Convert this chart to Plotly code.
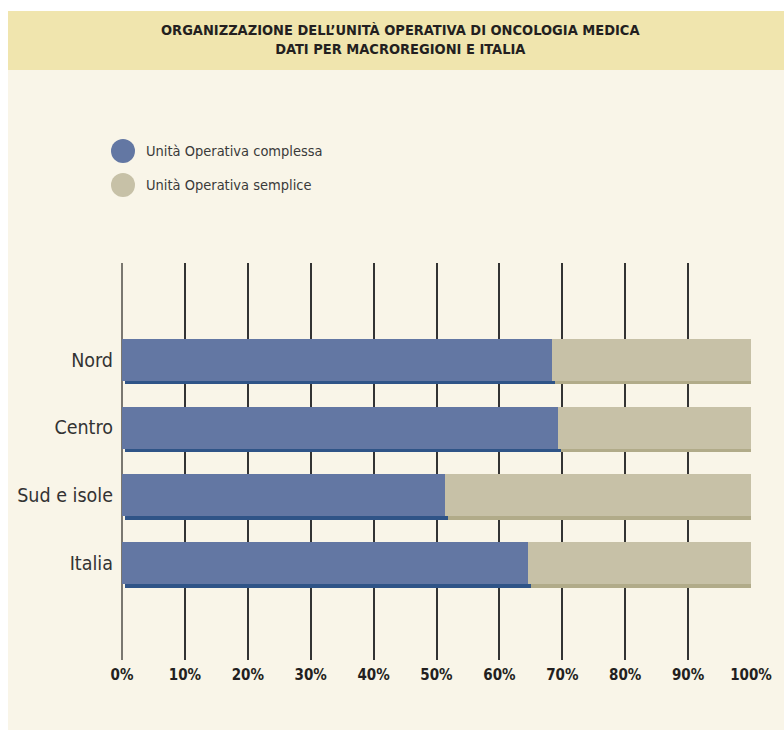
import plotly.graph_objects as go

# ---- data ----
categories = ["Nord", "Centro", "Sud e isole", "Italia"]
complessa = [68.4, 69.3, 51.4, 64.5]
semplice = [31.6, 30.7, 48.6, 35.5]
tick_vals = [0, 10, 20, 30, 40, 50, 60, 70, 80, 90, 100]
tick_text = ["0%", "10%", "20%", "30%", "40%", "50%", "60%", "70%", "80%", "90%", "100%"]
series_names = ["Unità Operativa complessa", "Unità Operativa semplice"]
title_lines = ["ORGANIZZAZIONE DELL’UNITÀ OPERATIVA DI ONCOLOGIA MEDICA",
               "DATI PER MACROREGIONI E ITALIA"]

# ---- style ----
BLUE = "#6377a3"
BLUE_SH = "#2f5487"
TAN = "#c7c1a7"
TAN_SH = "#b1ab89"
CREAM = "#f9f5e8"
BAND = "#f0e5ae"
FONT = "Liberation Sans Narrow, Arial Narrow, DejaVu Sans Condensed, sans-serif"

W, H = 784, 730
L, R, T, B = 122, 33, 263, 70
PW = W - L - R
PH = H - T - B

def px_x(px):
    return (px - L) / PW

def px_y(py):
    return (H - B - py) / PH

BW = 0.62
yr_main = [4.426, -1.426]
sx = 3 * 100 / PW          # 3 px shift right
sy = 3.5 * (yr_main[0] - yr_main[1]) / PH   # shift down

fig = go.Figure()

# shadows (base axes, shifted)
fig.add_trace(go.Bar(y=categories, x=complessa, orientation="h", marker_color=BLUE_SH,
                     marker_line_width=0, width=BW, showlegend=False, hoverinfo="skip",
                     xaxis="x", yaxis="y"))
fig.add_trace(go.Bar(y=categories, x=semplice, base=complessa, orientation="h", marker_color=TAN_SH,
                     marker_line_width=0, width=BW, showlegend=False, hoverinfo="skip",
                     xaxis="x", yaxis="y"))
# main bars (overlay axes)
fig.add_trace(go.Bar(y=categories, x=complessa, orientation="h", marker_color=BLUE,
                     marker_line_width=0, width=BW, name=series_names[0], showlegend=False,
                     xaxis="x2", yaxis="y2"))
fig.add_trace(go.Bar(y=categories, x=semplice, base=complessa, orientation="h", marker_color=TAN,
                     marker_line_width=0, width=BW, name=series_names[1], showlegend=False,
                     xaxis="x2", yaxis="y2"))

shapes = [
    # white outer margins
    dict(type="rect", xref="paper", yref="paper", x0=px_x(0), x1=px_x(W), y0=px_y(0), y1=px_y(11),
         fillcolor="white", line_width=0, layer="below"),
    dict(type="rect", xref="paper", yref="paper", x0=px_x(0), x1=px_x(8), y0=px_y(0), y1=px_y(H),
         fillcolor="white", line_width=0, layer="below"),
    # title band
    dict(type="rect", xref="paper", yref="paper", x0=px_x(8), x1=px_x(W), y0=px_y(11), y1=px_y(70),
         fillcolor=BAND, line_width=0, layer="below"),
]
# legend circles
legend_cols = [BLUE, TAN]
legend_y = [151, 185]
annotations = []
for col, yy, nm in zip(legend_cols, legend_y, series_names):
    shapes.append(dict(type="circle", xref="paper", yref="paper",
                       x0=px_x(111), x1=px_x(135), y0=px_y(yy + 12), y1=px_y(yy - 12),
                       fillcolor=col, line_width=0))
    annotations.append(dict(xref="paper", yref="paper", x=px_x(144), y=px_y(yy), text=nm,
                            showarrow=False, xanchor="left", yanchor="middle",
                            font=dict(family=FONT, size=14.5, color="#3a3a3a")))
annotations.append(dict(xref="paper", yref="paper", x=px_x(400), y=px_y(39),
                        text="<b>" + title_lines[0] + "</b><br><b>" + title_lines[1] + "</b>",
                        showarrow=False, xanchor="center", yanchor="middle", align="center",
                        font=dict(family=FONT, size=14.5, color="#231f20")))

fig.update_layout(
    width=W, height=H,
    margin=dict(l=L, r=R, t=T, b=B, pad=0),
    paper_bgcolor=CREAM, plot_bgcolor="rgba(0,0,0,0)",
    barmode="overlay", bargap=0,
    showlegend=False,
    shapes=shapes, annotations=annotations,
    xaxis=dict(range=[-sx, 100 - sx], showgrid=False, zeroline=False, showticklabels=False,
               showline=False, fixedrange=True),
    yaxis=dict(type="category", categoryorder="array", categoryarray=categories,
               range=[yr_main[0] - sy, yr_main[1] - sy], showgrid=False, zeroline=False,
               showticklabels=False, showline=False),
    xaxis2=dict(overlaying="x", anchor="y2", range=[0, 100], tickvals=tick_vals, ticktext=tick_text,
                showgrid=True, gridcolor="#333333", gridwidth=1.6,
                zeroline=True, zerolinecolor="#7a7770", zerolinewidth=2,
                ticks="", ticklabelstandoff=4,
                tickfont=dict(family=FONT, size=15, color="#231f20", weight="bold"),
                showline=False),
    yaxis2=dict(overlaying="y", anchor="x2", type="category", categoryorder="array",
                categoryarray=categories, range=yr_main, showgrid=False, zeroline=False,
                ticks="", ticklabelstandoff=8,
                tickfont=dict(family=FONT, size=19.5, color="#333333"), showline=False),
)

fig.write_html("out.html", config={"displayModeBar": False},
               post_script="document.body.style.margin='0';document.body.style.overflow='hidden';")
